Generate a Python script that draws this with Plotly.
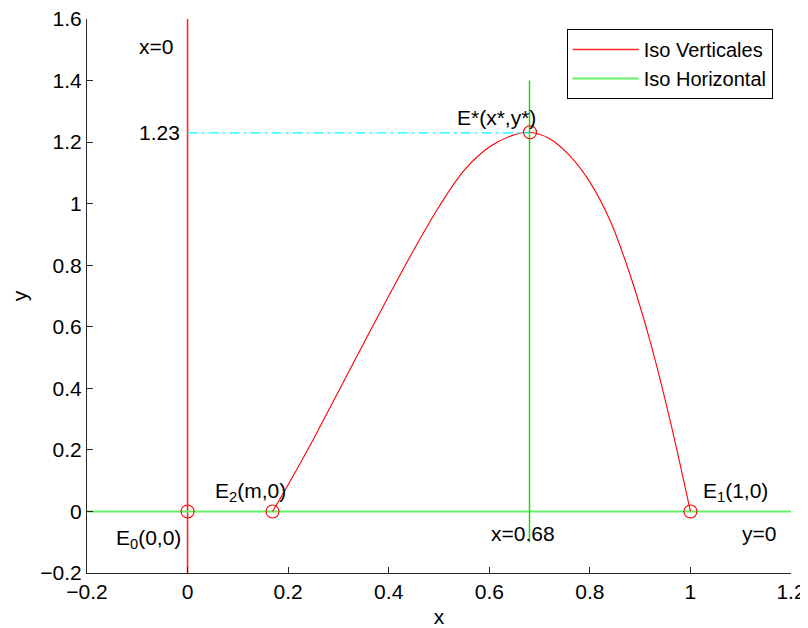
import plotly.graph_objects as go

# Isocline curve
curve_x = [0.169, 0.20, 0.25, 0.30, 0.35, 0.40, 0.45, 0.50, 0.55, 0.60, 0.65,
           0.68, 0.72, 0.76, 0.80, 0.84, 0.88, 0.92, 0.96, 1.0]
curve_y = [0.0, 0.087, 0.234, 0.390, 0.546, 0.700, 0.850, 0.990, 1.108, 1.184,
           1.224, 1.232, 1.211, 1.156, 1.070, 0.946, 0.769, 0.552, 0.293, 0.0]

# Equilibrium points
eq_x = [0.0, 0.169, 1.0, 0.681]
eq_y = [0.0, 0.0, 0.0, 1.232]

x_star = 0.68
y_star = 1.23

x_range = [-0.2, 1.2]
y_range = [-0.2, 1.6]
x_ticks = [-0.2, 0, 0.2, 0.4, 0.6, 0.8, 1, 1.2]
x_ticktext = ["\u22120.2", "0", "0.2", "0.4", "0.6", "0.8", "1", "1.2"]
y_ticks = [-0.2, 0, 0.2, 0.4, 0.6, 0.8, 1, 1.2, 1.4, 1.6]
y_ticktext = ["\u22120.2", "0", "0.2", "0.4", "0.6", "0.8", "1", "1.2", "1.4", "1.6"]

# Text labels: (x, y, text)
labels = [
    (-0.1, 1.51, "x=0"),
    (-0.1, 1.23, "1.23"),
    (0.532, 1.28, "E*(x*,y*)"),
    (0.05, 0.063, "E<sub>2</sub>(m,0)"),
    (-0.147, -0.09, "E<sub>0</sub>(0,0)"),
    (1.021, 0.063, "E<sub>1</sub>(1,0)"),
    (0.6, -0.073, "x=0.68"),
    (1.098, -0.073, "y=0"),
]

FONT = "Liberation Sans, Arial, Helvetica, sans-serif"
FS = 21

fig = go.Figure()

# Iso verticales: x = 0 line
fig.add_trace(go.Scatter(x=[0, 0], y=y_range, mode="lines",
                         line=dict(color="rgb(255,40,40)", width=1.6),
                         name="Iso Verticales", showlegend=True))
# Iso horizontal: y = 0 line
fig.add_trace(go.Scatter(x=x_range, y=[0, 0], mode="lines",
                         line=dict(color="rgb(100,240,100)", width=2),
                         name="Iso Horizontal", showlegend=True))
# red curve
fig.add_trace(go.Scatter(x=curve_x, y=curve_y, mode="lines",
                         line=dict(color="rgb(255,0,0)", width=1.1, shape="spline", smoothing=1.0),
                         showlegend=False))
# vertical green line at x*
fig.add_trace(go.Scatter(x=[x_star, x_star], y=[-0.1, 1.4], mode="lines",
                         line=dict(color="rgb(30,215,30)", width=1.5),
                         showlegend=False))
# cyan dash-dot at y*
fig.add_trace(go.Scatter(x=[0, x_star], y=[y_star, y_star], mode="lines",
                         line=dict(color="rgb(0,255,255)", width=1.2, dash="10px,4px,3px,4px"),
                         showlegend=False))
# equilibrium markers
fig.add_trace(go.Scatter(x=eq_x, y=eq_y, mode="markers",
                         marker=dict(symbol="circle-open", size=13, color="rgb(255,0,0)",
                                     line=dict(width=1.1, color="rgb(255,0,0)")),
                         showlegend=False))

for (tx, ty, tt) in labels:
    fig.add_annotation(x=tx, y=ty, text=tt, showarrow=False, xanchor="left",
                       yanchor="middle", font=dict(family=FONT, size=FS, color="black"))

axis_common = dict(showline=True, linecolor="#262626", linewidth=1, ticks="inside",
                   ticklen=6, tickcolor="#262626", showgrid=False, zeroline=False,
                   mirror=False, automargin=False, ticklabeloverflow="allow",
                   tickfont=dict(family=FONT, size=FS, color="black"))

fig.update_xaxes(range=x_range, tickvals=x_ticks, ticktext=x_ticktext,
                 title=dict(text="x", font=dict(family=FONT, size=FS, color="black"), standoff=10),
                 **axis_common)
fig.update_yaxes(range=y_range, tickvals=y_ticks, ticktext=y_ticktext,
                 title=dict(text="y", font=dict(family=FONT, size=FS, color="black"), standoff=12),
                 **axis_common)

# page body has an 8px margin, so the figure is sized/offset accordingly
fig.update_layout(
    width=800, height=620,
    margin=dict(l=79, r=17, t=11, b=55, autoexpand=False),
    plot_bgcolor="white", paper_bgcolor="white",
    font=dict(family=FONT, size=FS, color="black"),
    legend=dict(x=0.974, y=0.982, xanchor="right", yanchor="top",
                bordercolor="black", borderwidth=1, bgcolor="white",
                font=dict(family=FONT, size=20, color="black"),
                itemwidth=66, tracegroupgap=0),
)

fig.write_html("out.html")
